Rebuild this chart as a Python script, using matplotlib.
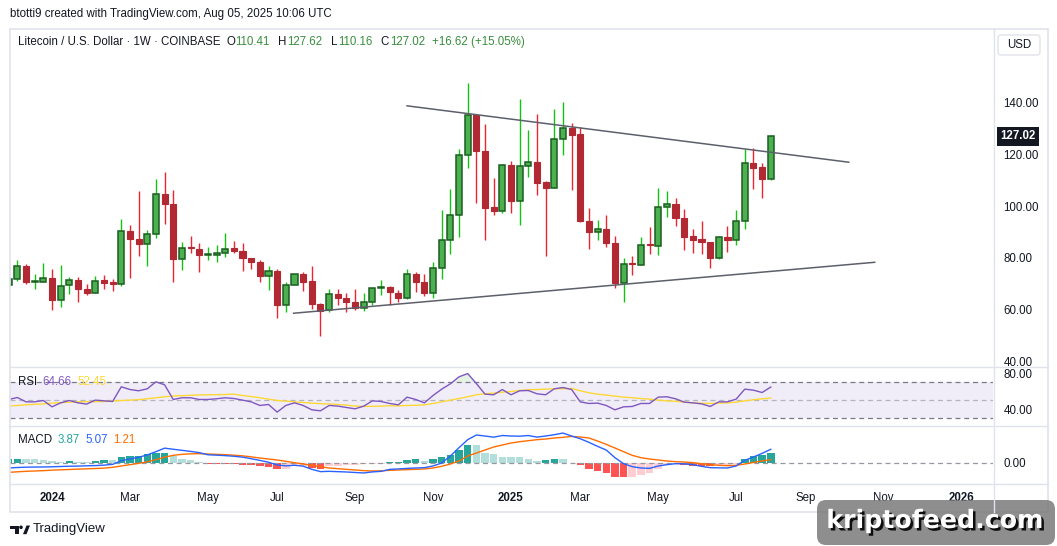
import numpy as np
import pandas as pd
import matplotlib
matplotlib.use("Agg")
import matplotlib.pyplot as plt
import matplotlib.patheffects as pe
from matplotlib.patches import Rectangle, FancyBboxPatch, Circle, Polygon
from matplotlib.transforms import blended_transform_factory

plt.rcParams["font.family"] = ["Liberation Sans", "DejaVu Sans"]

# Weekly LTC/USD candles, first bar = week of 2023-11-27
first_week = "2023-11-27"
opens = [69.66, 71.99, 77.02, 70.70, 70.83, 72.38, 63.85, 69.66, 71.60, 68.12,
         66.57, 71.34, 70.57, 70.05, 90.57, 87.48, 85.54, 89.41, 104.90, 101.03,
         79.73, 84.12, 83.60, 81.15, 81.28, 82.06, 83.73, 82.83, 80.12, 78.57,
         73.15, 75.08, 61.92, 69.66, 73.92, 70.95, 62.05, 59.73, 66.18, 64.63,
         63.08, 60.76, 63.08, 68.50, 68.89, 66.57, 64.63, 73.92, 70.83, 66.57,
         76.25, 87.09, 96.77, 119.61, 135.10, 121.16, 99.61, 98.32, 115.74, 102.19,
         115.36, 116.90, 109.16, 107.22, 125.81, 130.07, 127.75, 94.45, 90.19, 91.35,
         85.93, 70.44, 77.92, 77.41, 85.28, 84.77, 99.87, 101.03, 95.61, 88.38,
         87.22, 86.06, 80.00, 87.99, 86.96, 94.45, 116.52, 114.97, 110.41]
highs = [72.40, 79.35, 77.54, 73.92, 77.92, 75.86, 77.15, 72.50, 72.50, 69.79,
         72.89, 73.28, 71.73, 94.96, 92.64, 105.80, 90.70, 110.45, 113.16, 106.19,
         86.06, 88.38, 85.67, 84.12, 84.90, 89.54, 86.50, 85.67, 80.12, 79.09,
         76.76, 75.86, 70.57, 73.92, 74.44, 76.76, 62.44, 67.86, 67.86, 66.31,
         68.12, 66.57, 68.37, 71.34, 69.28, 67.73, 75.86, 74.44, 73.92, 78.31,
         98.45, 106.45, 122.07, 147.62, 135.49, 131.62, 110.84, 116.39, 117.42, 141.43,
         129.42, 135.62, 109.55, 137.56, 140.27, 132.14, 130.59, 99.22, 94.57, 96.51,
         88.38, 79.86, 80.64, 87.99, 91.86, 106.97, 105.80, 103.09, 98.83, 91.09,
         94.19, 86.06, 88.38, 92.38, 98.45, 121.94, 122.45, 116.52, 127.62]
lows = [69.20, 71.08, 70.05, 67.99, 70.83, 59.86, 61.02, 66.05, 62.95, 65.66,
        66.57, 67.99, 67.21, 69.15, 72.25, 80.77, 76.89, 87.73, 93.16, 70.70,
        75.34, 81.93, 74.57, 79.09, 78.44, 80.38, 81.93, 74.96, 75.73, 70.70,
        67.60, 56.76, 59.08, 69.66, 67.21, 60.24, 49.78, 59.08, 61.66, 59.08,
        59.86, 59.47, 61.66, 65.66, 61.92, 62.82, 64.11, 66.83, 65.28, 64.50,
        71.86, 81.54, 88.12, 114.84, 101.29, 86.96, 96.51, 97.41, 97.41, 92.77,
        111.35, 104.38, 80.77, 107.22, 119.87, 106.32, 93.80, 83.47, 86.96, 84.25,
        68.37, 62.95, 73.41, 77.41, 81.54, 81.15, 95.87, 92.38, 82.96, 81.80,
        81.67, 76.12, 79.60, 82.18, 84.90, 91.09, 106.58, 103.22, 110.16]
closes = [71.99, 77.02, 70.83, 70.95, 72.38, 63.72, 69.28, 71.60, 67.99, 66.44,
          71.21, 70.31, 70.05, 90.57, 87.48, 85.41, 89.41, 104.90, 100.90, 79.60,
          83.99, 83.86, 81.15, 81.41, 82.06, 83.60, 82.70, 80.00, 78.57, 73.02,
          75.08, 61.79, 69.66, 73.92, 70.70, 62.18, 59.60, 66.18, 64.50, 63.08,
          60.76, 63.08, 68.37, 68.89, 66.83, 64.50, 73.92, 70.83, 66.57, 76.25,
          87.09, 96.77, 119.61, 135.10, 121.16, 99.35, 98.19, 115.74, 102.19, 115.36,
          116.90, 109.03, 107.09, 125.81, 130.07, 127.62, 94.32, 90.06, 91.35, 85.93,
          70.31, 77.80, 77.67, 85.15, 85.02, 99.87, 101.03, 95.61, 88.12, 86.96,
          86.19, 80.00, 87.99, 86.96, 94.45, 116.52, 114.84, 110.40, 127.02]

# Trendlines drawn on the chart: (bar index, price) end points
upper_line_x = [46.0, 97.0]
upper_line_y = [138.8, 117.0]
lower_line_x = [32.9, 100.0]
lower_line_y = [58.6, 78.3]

# RSI (14) and its moving average
rsi = [50.9, 53.1, 48.3, 48.3, 49.8, 42.8, 47.2, 49.8, 47.2, 45.8,
       50.2, 49.4, 48.7, 64.9, 61.9, 60.5, 62.7, 70.4, 67.1, 50.9,
       52.8, 52.8, 50.9, 50.9, 51.7, 52.8, 52.0, 50.2, 48.3, 44.3,
       45.4, 37.0, 44.3, 47.2, 44.3, 39.5, 38.4, 44.3, 43.6, 42.1,
       40.6, 43.6, 49.4, 48.7, 46.5, 45.0, 53.5, 50.9, 47.2, 55.3,
       62.3, 68.2, 75.9, 79.5, 68.5, 56.8, 56.1, 61.9, 56.1, 60.5,
       60.8, 57.2, 56.1, 62.7, 64.1, 61.9, 48.3, 46.5, 46.9, 44.3,
       39.5, 42.8, 43.2, 46.5, 46.5, 53.5, 53.9, 51.7, 48.0, 47.2,
       46.1, 43.2, 48.3, 48.3, 51.3, 62.3, 61.2, 58.6, 64.66]
rsi_ma = [43.6, 44.3, 45.0, 45.6, 46.1, 46.9, 47.4, 48.0, 48.3, 48.5,
          48.5, 48.7, 49.1, 49.8, 50.2, 50.7, 51.7, 52.8, 53.9, 54.8,
          55.1, 55.5, 55.9, 56.1, 56.2, 56.4, 56.8, 55.3, 54.2, 52.8,
          51.3, 49.8, 49.1, 48.3, 47.6, 46.9, 46.3, 46.0, 45.4, 44.7,
          43.6, 43.2, 43.4, 43.6, 44.0, 43.9, 44.3, 44.5, 45.0, 46.5,
          48.3, 50.2, 52.0, 53.9, 56.1, 57.2, 57.9, 59.0, 59.7, 60.8,
          61.6, 61.9, 62.3, 62.7, 62.8, 63.0, 60.5, 58.3, 56.8, 55.7,
          54.6, 53.5, 52.8, 52.0, 51.3, 50.2, 49.4, 48.9, 48.0, 47.2,
          46.7, 46.5, 46.9, 47.2, 48.0, 49.4, 50.6, 51.7, 52.45]

# MACD (12, 26, 9)
macd = [-1.85, -1.67, -1.55, -1.50, -1.48, -1.40, -1.30, -1.20, -1.15, -1.05,
        -0.95, -0.80, -0.50, 0.85, 1.50, 2.10, 3.00, 4.20, 5.50, 5.10,
        4.70, 4.30, 3.85, 3.05, 2.90, 2.73, 2.50, 2.17, 1.60, 0.97,
        0.28, -0.73, -1.06, -0.84, -1.17, -2.34, -3.20, -3.09, -3.21, -3.33,
        -3.52, -3.70, -3.30, -3.10, -2.35, -2.20, -2.00, -1.85, -1.73, -1.11,
        0.00, 2.59, 5.68, 8.64, 10.37, 10.00, 9.57, 10.19, 10.00, 9.94,
        10.19, 9.60, 10.00, 10.49, 11.10, 10.00, 9.00, 7.65, 6.17, 4.81,
        1.98, -0.25, -1.36, -1.85, -1.98, -1.11, -0.62, -0.25, -0.31, -0.62,
        -1.23, -1.73, -1.79, -1.85, -1.11, 0.99, 2.22, 3.58, 5.07]
signal = [-3.46, -3.27, -3.09, -2.96, -2.84, -2.65, -2.53, -2.41, -2.28, -2.16,
          -2.04, -1.91, -1.60, -1.11, -0.62, -0.12, 0.43, 1.23, 2.16, 2.84,
          3.21, 3.40, 3.46, 3.33, 3.21, 3.09, 2.90, 2.65, 2.28, 1.85,
          1.48, 1.11, 0.62, 0.12, -0.37, -0.86, -1.36, -1.85, -2.10, -2.35,
          -2.59, -2.84, -2.96, -2.90, -2.72, -2.59, -2.47, -2.35, -2.22, -1.85,
          -1.23, -0.37, 0.74, 2.59, 3.70, 4.81, 5.93, 6.67, 7.41, 7.90,
          8.27, 8.64, 8.89, 9.26, 9.51, 9.85, 9.63, 9.26, 8.15, 6.91,
          5.56, 4.20, 2.84, 1.98, 1.48, 1.11, 0.74, 0.49, 0.37, 0.12,
          -0.25, -0.62, -0.86, -0.99, -0.86, -0.37, 0.20, 0.75, 1.21]
hist = [1.50, 1.60, 1.36, 1.30, 1.20, 0.60, 0.50, 0.85, 0.50, 0.45,
        0.60, 1.00, 0.95, 2.20, 2.45, 2.60, 3.20, 3.60, 3.85, 2.45,
        1.60, 1.00, 0.50, -0.35, -0.40, -0.45, -0.50, -0.60, -0.85, -1.10,
        -1.50, -2.30, -2.10, -1.20, -1.00, -1.85, -2.30, -1.20, -1.00, -0.90,
        -0.60, -0.50, -0.40, -0.25, 0.50, 0.55, 0.95, 1.35, 0.90, 1.30,
        2.30, 3.10, 5.00, 6.80, 6.70, 3.80, 3.30, 2.40, 2.35, 2.30,
        1.60, 0.85, 1.20, 1.60, 1.50, 0.15, -0.60, -2.35, -3.10, -3.80,
        -5.20, -5.25, -5.10, -4.60, -3.80, -2.20, -0.60, -0.35, -0.80, -1.00,
        -1.10, -1.20, -0.90, -0.60, -0.30, 1.60, 2.60, 2.80, 3.87]

W, H = 1057, 546
TXT = "#131722"
BORDER = "#E0E3EB"
FS = 8.3

o = np.array(opens)
h = np.array(highs)
lo = np.array(lows)
c = np.array(closes)
x = np.arange(len(c))
weeks = pd.date_range(first_week, periods=130, freq="W-MON")

fig = plt.figure(figsize=(W / 100, H / 100), dpi=100)
fig.patch.set_facecolor("white")


def rect(left, top, right, bottom):
    return [left / W, 1 - bottom / H, (right - left) / W, (bottom - top) / H]


ax1 = fig.add_axes(rect(10, 28, 993, 366.5))
ax2 = fig.add_axes(rect(10, 366.5, 993, 425.5), sharex=ax1)
ax3 = fig.add_axes(rect(10, 425.5, 993, 483.5), sharex=ax1)

for ax in (ax1, ax2, ax3):
    ax.set_facecolor("none")
    for s in ax.spines.values():
        s.set_visible(False)
    ax.yaxis.tick_right()
    ax.tick_params(axis="y", length=0, pad=7.5, labelsize=FS, labelcolor=TXT)
    ax.tick_params(axis="x", length=0, labelbottom=False)

ax1.set_xlim(0.15, 113.66)

# --- candles ---
up = c >= o
body_lo = np.minimum(o, c)
body_h = np.maximum(np.abs(c - o), 0.3)
ax1.vlines(x[up], lo[up], h[up], color="#12C312", lw=1.0, zorder=2)
ax1.vlines(x[~up], lo[~up], h[~up], color="#EE2530", lw=1.0, zorder=2)
ax1.bar(x[up], body_h[up], bottom=body_lo[up], width=0.7, color="#4CAF50",
        edgecolor="#1B5E20", linewidth=1.1, zorder=3)
ax1.bar(x[~up], body_h[~up], bottom=body_lo[~up], width=0.7, color="#B22833",
        edgecolor="#B22833", linewidth=0.8, zorder=3)

ax1.plot(upper_line_x, upper_line_y, color="#5D606B", lw=1.1, zorder=4)
ax1.plot(lower_line_x, lower_line_y, color="#5D606B", lw=1.1, zorder=4)

ax1.set_ylim(38.0, 168.9)
ax1.set_yticks([40, 60, 80, 100, 120, 140])
ax1.set_yticklabels([f"{v:.2f}" for v in [40, 60, 80, 100, 120, 140]])

# last price tag
tr = blended_transform_factory(ax1.transAxes, ax1.transData)
ax1.text(1.0075, c[-1], f"{c[-1]:.2f}", transform=tr, ha="left", va="center",
         color="white", fontsize=FS, fontweight="bold", zorder=10,
         bbox=dict(boxstyle="square,pad=0.3", fc=TXT, ec="none"))

# --- RSI ---
ax2.axhspan(30, 70, color="#7E57C2", alpha=0.1, lw=0)
ax2.axhline(70, color="#787B86", lw=0.9, ls=(0, (4, 3)))
ax2.axhline(30, color="#787B86", lw=0.9, ls=(0, (4, 3)))
ax2.axhline(50, color="#B2B5BE", lw=0.9, ls=(0, (4, 3)))
rsi_a = np.array(rsi)
ax2.fill_between(x, 70, rsi_a, where=rsi_a > 70, interpolate=True,
                 color="#4CAF50", alpha=0.15, lw=0)
ax2.plot(x, rsi_ma, color="#FDD835", lw=1.0)
ax2.plot(x, rsi, color="#7E57C2", lw=1.0)
ax2.set_ylim(22.2, 87.3)
ax2.set_yticks([40, 80])
ax2.set_yticklabels(["40.00", "80.00"])

# --- MACD ---
hist_colors = []
for i, v in enumerate(hist):
    prev = hist[i - 1] if i > 0 else v - 1
    if v >= 0:
        hist_colors.append("#26A69A" if v > prev else "#B2DFDB")
    else:
        hist_colors.append("#FFCDD2" if v > prev else "#FF5252")
ax3.axhline(0, color="#9598A1", lw=0.9, ls=(0, (4, 3)))
ax3.bar(x, hist, width=0.86, color=hist_colors, lw=0)
ax3.plot(x, signal, color="#FF6D00", lw=1.0)
ax3.plot(x, macd, color="#2962FF", lw=1.0)
ax3.set_ylim(-7.6, 13.9)
ax3.set_yticks([0])
ax3.set_yticklabels(["0.00"])

# time axis labels at first weekly bar of every second month
tick_pos, tick_lab = [], []
for m in pd.date_range("2024-01-01", "2026-01-01", freq="2MS"):
    tick_pos.append(int(np.searchsorted(weeks, m)))
    tick_lab.append(str(m.year) if m.month == 1 else m.strftime("%b"))
ax3.set_xticks(tick_pos)
ax3.set_xticklabels(tick_lab)
ax3.tick_params(axis="x", labelbottom=True, pad=6, labelsize=FS, labelcolor=TXT)
for t in ax3.get_xticklabels():
    if t.get_text().isdigit():
        t.set_fontweight("bold")

# --- overlay for frame and texts ---
ov = fig.add_axes([0, 0, 1, 1], zorder=10)
ov.set_xlim(0, W)
ov.set_ylim(H, 0)
ov.axis("off")
ov.patch.set_alpha(0)

ov.add_patch(Rectangle((9.5, 28.5), 1038.5, 483, fill=False, ec=BORDER, lw=1.2))
ov.plot([993.5, 993.5], [28.5, 511.5], color=BORDER, lw=1)
for yy in (366.5, 425.5, 483.5):
    ov.plot([9.5, 1048], [yy, yy], color=BORDER, lw=1)

ov.text(10, 14, "btotti9 created with TradingView.com, Aug 05, 2025 10:06 UTC",
        ha="left", va="center", fontsize=FS, color=TXT)


def chain(parts, x0, y0):
    prev = ov.text(x0, y0, parts[0][0], ha="left", va="center",
                   fontsize=FS, color=parts[0][1])
    for s, col, gap in parts[1:]:
        prev = ov.annotate(s, xy=(1, 0), xycoords=prev, xytext=(gap, 0),
                           textcoords="offset points", ha="left", va="bottom",
                           fontsize=FS, color=col)


GRN = "#388E3C"
chg = c[-1] - c[-2]
chain([("Litecoin / U.S. Dollar · 1W · COINBASE", TXT, 0),
       ("O", TXT, 4), (f"{o[-1]:.2f}", GRN, 0.5),
       ("H", TXT, 6), (f"{h[-1]:.2f}", GRN, 0.5),
       ("L", TXT, 6), (f"{lo[-1]:.2f}", GRN, 0.5),
       ("C", TXT, 6), (f"{c[-1]:.2f}", GRN, 0.5),
       (f"+{chg:.2f} (+{chg / c[-2] * 100:.2f}%)", GRN, 5)], 18, 42)

chain([("RSI", TXT, 0), (f"{rsi[-1]:.2f}", "#7E57C2", 4),
       (f"{rsi_ma[-1]:.2f}", "#FDD835", 4)], 18, 382)
chain([("MACD", TXT, 0), (f"{hist[-1]:.2f}", "#26A69A", 4),
       (f"{macd[-1]:.2f}", "#2962FF", 4), (f"{signal[-1]:.2f}", "#FF6D00", 4)],
      18, 440)

ov.add_patch(FancyBboxPatch((998, 35), 42, 20, boxstyle="round,pad=0,rounding_size=3",
                            fc="white", ec=BORDER, lw=1))
ov.text(1019, 45, "USD", ha="center", va="center", fontsize=FS, color=TXT)

# TradingView logo
ov.add_patch(Rectangle((10, 525.5), 8.5, 3.5, color=TXT, lw=0))
ov.add_patch(Rectangle((15, 525.5), 3.5, 8.7, color=TXT, lw=0))
ov.add_patch(Circle((21, 527.3), 1.8, color=TXT, lw=0))
ov.add_patch(Polygon([(23, 534.2), (26.5, 525.5), (30, 525.5), (26.5, 534.2)],
                     color=TXT, lw=0))
ov.text(33, 529, "TradingView", ha="left", va="center", fontsize=9.5, color=TXT)

# watermark
ov.add_patch(FancyBboxPatch((817, 500), 238, 45, boxstyle="round,pad=0,rounding_size=9",
                            fc="#7a7a7a", ec="none", alpha=0.85))
ov.text(935, 521, "kriptofeed.com", ha="center", va="center", fontsize=18.2,
        fontweight="bold", family="DejaVu Sans", color="white",
        path_effects=[pe.withSimplePatchShadow(offset=(1.8, -1.8),
                                               shadow_rgbFace="black", alpha=0.9)])

fig.savefig("out.png", dpi=100, facecolor="white")
